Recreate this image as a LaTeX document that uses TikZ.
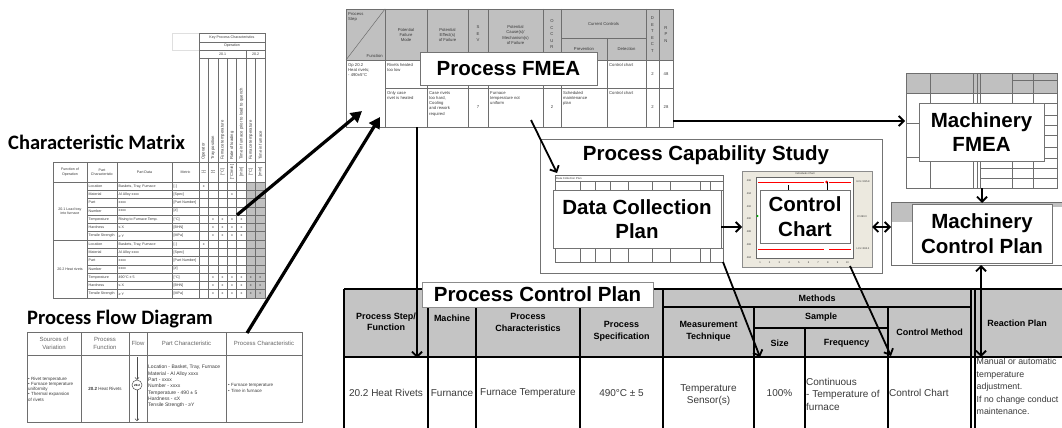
\documentclass[tikz,border=0pt]{standalone}
\usepackage{fontspec}
\setmainfont{Liberation Sans}
\newfontfamily\calibri{Carlito}
\usetikzlibrary{arrows.meta}
\definecolor{hdr}{HTML}{C0C0C0}
\definecolor{pcphdr}{HTML}{C4C4C4}
\definecolor{beige}{HTML}{ECE9DF}
\definecolor{tblline}{HTML}{6E6E6E}
\definecolor{txt}{HTML}{3A3A3A}
\newcounter{nd}
\newcommand\tn[3][]{\stepcounter{nd}\node[tiny,#1] (t\arabic{nd}) at (#2) {#3};}
\newcommand\cmrow[4]{\tn[anchor=west]{88.5,#1}{#2}\tn[anchor=west]{118.5,#1}{#3}\tn[anchor=west]{173.5,#1}{#4}}
\newcommand\xm[2]{\tn{{199+(#1-0.5)*66/7},#2}{x}}
\begin{document}
\begin{tikzpicture}[x=1pt,y=-1pt,
  lbl/.style={draw=black!55, line width=0.9pt, fill=white, font=\bfseries\fontsize{20.5}{24.5}\selectfont, align=center, inner sep=0pt},
  tiny/.style={font=\fontsize{3.6}{4.3}\selectfont, text=txt, inner sep=0pt, align=center},
  vt/.style={font=\fontsize{4.2}{5}\selectfont, rotate=90},
  small/.style={font=\fontsize{4.2}{5.2}\selectfont},
  stack/.style={font=\fontsize{4.2}{6.5}\selectfont},
  pfd/.style={font=\fontsize{5}{6.3}\selectfont},
  pfdh/.style={font=\fontsize{6}{7.8}\selectfont, text=black!60},
  pcph/.style={font=\bfseries\fontsize{9}{11.5}\selectfont, align=center, inner sep=0pt},
  pcpd/.style={font=\fontsize{10}{12.5}\selectfont, text=txt, align=center, inner sep=0pt},
  grid/.style={draw=tblline, line width=0.5pt},
  big/.style={line width=3.2pt, -{Triangle[length=11pt,width=12pt]}},
  arr/.style={line width=1.8pt, -{Straight Barb[length=5pt,width=10pt]}},
  darr/.style={line width=1.8pt, {Straight Barb[length=5pt,width=10pt]}-{Straight Barb[length=5pt,width=10pt]}},
  pline/.style={draw=black, line width=1.3pt},
]
\useasboundingbox (0,0) rectangle (1062,428);
\clip (0,0) rectangle (1062,428);
\fill[white] (0,0) rectangle (1062,428);

%================ Characteristic Matrix ================
\node[font=\calibri\bfseries\fontsize{20.5}{24}\selectfont, anchor=west, inner sep=0pt] (cmTitle) at (8,142) {Characteristic Matrix};
\draw[gray!25] (172,33) rectangle (199,50);
\fill[hdr] ({199+5*66/7},182) rectangle (265,298);
\draw[grid] (199,33) rectangle (265,162);
\draw[grid] (199,42) -- (265,42) (199,50) -- (265,50) (199,58) -- (265,58);
\draw[grid] ({199+5*66/7},50) -- ({199+5*66/7},58);
\foreach \i in {1,...,6} { \draw[grid] ({199+\i*66/7},58) -- ({199+\i*66/7},298); }
\draw[grid] (53,162) rectangle (265,298);
\draw[grid] (53,182) -- (265,182);
\foreach \x in {87,117,172,199} { \draw[grid] (\x,162) -- (\x,298); }
\foreach \r in {1,...,13} { \draw[grid] (87,{182+\r*116/14}) -- (265,{182+\r*116/14}); }
\draw[grid, line width=0.9pt] (53,240) -- (265,240);
\tn{232,37.5}{Key Process Characteristics}
\tn{232,46}{Operation}
\tn{222.6,54}{20.1}
\tn{255.6,54}{20.2}
\foreach \lab [count=\i] in {Operator,Tray position,Furnace temperature,Rate of loading,Time in furnace prior to load to quench,Furnace temperature,Time in furnace} {
  \node[tiny, vt, anchor=west] (cmv\i) at ({199+(\i-0.5)*66/7},160) {\lab};
}
\foreach \lab [count=\i] in {[-],[-],[°C],[°C/min],[min],[°C],[min]} {
  \node[tiny, vt] (cmu\i) at ({199+(\i-0.5)*66/7},172) {\lab};
}
\tn{70,172}{Function of\\Operation}
\tn{102,172}{Part\\Characteristic}
\tn{144.5,172}{Part Data}
\tn{185.5,172}{Metric}
\tn{70,211}{20.1 Load tray\\into furnace}
\tn{70,269}{20.2 Heat rivets}
\cmrow{186.1}{Location}{Baskets, Tray, Furnace}{[-]}
\cmrow{194.4}{Material}{Al Alloy xxxx}{[Spec]}
\cmrow{202.7}{Part}{xxxx}{[Part Number]}
\cmrow{211.0}{Number}{xxxx}{[\#]}
\cmrow{219.3}{Temperature}{Rising to Furnace Temp.}{[°C]}
\cmrow{227.6}{Hardness}{≤ X}{[BHN]}
\cmrow{235.9}{Tensile Strength}{≥ Y}{[MPa]}
\cmrow{244.1}{Location}{Baskets, Tray, Furnace}{[-]}
\cmrow{252.4}{Material}{Al Alloy xxxx}{[Spec]}
\cmrow{260.7}{Part}{xxxx}{[Part Number]}
\cmrow{269.0}{Number}{xxxx}{[\#]}
\cmrow{277.3}{Temperature}{490°C ± 5}{[°C]}
\cmrow{285.6}{Hardness}{≤ X}{[BHN]}
\cmrow{293.9}{Tensile Strength}{≥ Y}{[MPa]}
\xm{1}{186.1}
\xm{4}{194.4}
\foreach \yy in {219.3,227.6,235.9} { \foreach \c in {2,3,4,5} { \xm{\c}{\yy} } }
\xm{1}{244.1}
\foreach \yy in {277.3,285.6,293.9} { \foreach \c in {2,3,4,5,6,7} { \xm{\c}{\yy} } }

%================ Process Flow Diagram ================
\node[font=\calibri\bfseries\fontsize{20.5}{24}\selectfont, anchor=west, inner sep=0pt] (pfdTitle) at (27,319) {Process Flow Diagram};
\draw[grid, line width=0.8pt] (27,332) rectangle (302,422);
\draw[grid, line width=0.8pt] (27,355) -- (302,355);
\foreach \x in {81,129,147,226} { \draw[grid, line width=0.8pt] (\x,332) -- (\x,422); }
\tn[pfdh]{54,343.5}{Sources of\\Variation}
\tn[pfdh]{105,343.5}{Process\\Function}
\tn[pfdh]{138,343.5}{Flow}
\tn[pfdh]{186.5,343.5}{Part Characteristic}
\tn[pfdh]{264,343.5}{Process Characteristic}
\tn[font=\fontsize{4.5}{5.2}\selectfont, anchor=west, align=left]{28,389}{• Rivet temperature\\• Furnace temperature\\uniformity\\• Thermal expansion\\of rivets}
\tn[font=\fontsize{4.5}{5.2}\selectfont]{105,389}{\textbf{20.2} Heat Rivets}
\node[draw=black!70, circle, line width=0.5pt, minimum size=10pt, inner sep=0pt, font=\bfseries\fontsize{3}{3.5}\selectfont, fill=white] (flowC) at (137,385) {20.2};
\coordinate (flowTop) at (137,357);
\coordinate (flowBot) at (137,421);
\draw[black!70, line width=0.5pt, -{Straight Barb[length=2pt,width=4pt]}] (flowTop) -- (flowC);
\draw[black!70, line width=0.5pt, -{Straight Barb[length=2pt,width=4pt]}] (flowC) -- (flowBot);
\tn[pfd, anchor=west, align=left]{148,386.5}{Location - Basket, Tray, Furnace\\Material - Al Alloy xxxx\\Part - xxxx\\Number - xxxx\\Temperature - 490 ± 5\\Hardness - ≤X\\Tensile Strength - ≥Y}
\tn[font=\fontsize{4.5}{5.5}\selectfont, anchor=west, align=left]{228,388}{• Furnace temperature\\• Time in furnace}

%================ Process FMEA ================
\fill[hdr] (346,9) rectangle (673,60);
\draw[grid] (346,9) rectangle (673,127);
\foreach \x in {385,427,468,488,543,561,646,659} { \draw[grid] (\x,9) -- (\x,127); }
\draw[grid] (607,38) -- (607,127);
\draw[grid] (561,38) -- (646,38);
\draw[grid] (346,60) -- (673,60);
\draw[grid] (385,88) -- (673,88);
\draw[grid] (346,60) -- (385,9);
\tn[small, anchor=north west, align=left]{348,12}{Process\\Step}
\tn[small, anchor=south east]{383,58}{Function}
\tn[small]{406,35}{Potential\\Failure\\Mode}
\tn[small]{447.5,35}{Potential\\Effect(s)\\of Failure}
\tn[stack]{478,34}{S\\E\\V}
\tn[small]{515.5,35}{Potential\\Cause(s)/\\Mechanism(s)\\of Failure}
\tn[stack]{552,34.5}{O\\C\\C\\U\\R}
\tn[small]{603.5,23.5}{Current Controls}
\tn[small]{584,49}{Prevention}
\tn[small]{626.5,49}{Detection}
\tn[stack]{652.5,34.5}{D\\E\\T\\E\\C\\T}
\tn[stack]{666,34.5}{R\\P\\N}
\tn[small, anchor=north west, align=left]{348,63}{Op 20.2\\Heat rivets;\\- 490±5°C}
\tn[small, anchor=north west, align=left]{387,63}{Rivets heated\\too low}
\tn[small, anchor=north west, align=left]{609,63}{Control chart}
\tn[small]{652.5,74}{2}
\tn[small]{666,74}{48}
\tn[small, anchor=north west, align=left]{387,91}{Only case\\rivet is heated}
\tn[small, anchor=north west, align=left]{429,91}{Case rivets\\too hard,\\Cooling\\and rework\\required}
\tn[small]{478,107}{7}
\tn[small, anchor=north west, align=left]{490,91}{Furnace\\temperature not\\uniform}
\tn[small]{552,107}{2}
\tn[small, anchor=north west, align=left]{563,91}{Scheduled\\maintenance\\plan}
\tn[small, anchor=north west, align=left]{609,91}{Control chart}
\tn[small]{652.5,107}{2}
\tn[small]{666,107}{28}
\node[lbl, minimum width=177pt, minimum height=33pt] (pfmeaLbl) at (508.5,68.5) {Process FMEA};

%================ Process Capability Study ================
\draw[black!55, line width=0.9pt] (540,139) rectangle (882,273);
\node[font=\bfseries\fontsize{20.5}{24}\selectfont, inner sep=0pt] (pcsTitle) at (706,155) {Process Capability Study};
% data collection plan sheet
\draw[grid, fill=white] (555,175) rectangle (723,262);
\draw[grid] (555,181) -- (723,181) (555,190) -- (723,190) (555,248) -- (723,248);
\foreach \x in {580,595,610,628,652,670,700,710} { \draw[grid] (\x,181) -- (\x,190) (\x,248) -- (\x,262); }
\tn[font=\fontsize{2.8}{3}\selectfont, anchor=west]{556,178}{Data Collection Plan}
\node[lbl, minimum width=168pt, minimum height=58pt] (dcpLbl) at (637,219) {Data Collection\\Plan};
% control chart sheet
\draw[black!45, fill=beige] (742,171) rectangle (872,267);
\draw[black!60, fill=white] (756,177) rectangle (853,258);
\draw[red, line width=1pt] (758,182) -- (824,182) (829,182) -- (851,182);
\draw[red, line width=1pt] (758,249) -- (824,249) (829,249) -- (851,249);
\fill[red] (826.5,182) circle (1.5);
\draw[black, line width=0.5pt] (788,185) -- (788,190) (827,182) -- (827,190);
\fill[green!70!black] (757.5,216) circle (1.2);
\foreach \lab [count=\i] in {496,494,492,490,488,486,484} {
  \node[font=\fontsize{2.6}{3}\selectfont, inner sep=0pt, text=txt] (ccy\i) at (749,{181+(\i-1)*12.7}) {\lab};
}
\foreach \i in {1,...,10} {
  \node[font=\fontsize{2.6}{3}\selectfont, inner sep=0pt, text=txt] (ccx\i) at ({760+(\i-1)*9.7},263) {\i};
}
\tn[font=\fontsize{2.6}{3}\selectfont]{863,182}{UCL=495.8}
\tn[font=\fontsize{2.6}{3}\selectfont]{862,217}{X=490.0}
\tn[font=\fontsize{2.6}{3}\selectfont]{863,249}{LCL=484.2}
\tn[font=\fontsize{2.6}{3}\selectfont]{805,174}{Individuals Chart}
\node[lbl, minimum width=90pt, minimum height=53pt] (ccLbl) at (805,216.5) {Control\\Chart};

%================ Machinery FMEA ================
\fill[hdr] (906,73) rectangle (1057,93);
\draw[grid] (906,73) rectangle (1057,188);
\foreach \x in {930,973,977,980,1012,1033} { \draw[grid] (\x,73) -- (\x,188); }
\draw[grid] (906,93) -- (1057,93) (1012,80) -- (1057,80);
\foreach \yy in {103,115,125,135,147,158,168,178} { \draw[grid] (980,\yy) -- (1057,\yy); }
\foreach \yy in {123,157} { \draw[grid] (906,\yy) -- (973,\yy); }
\node[lbl, minimum width=125pt, minimum height=58pt] (mfmeaLbl) at (981.5,132) {Machinery\\FMEA};

%================ Machinery Control Plan ================
\draw[grid, fill=white] (891,202) rectangle (1070,265);
\fill[hdr] (891,202) rectangle (1070,207);
\fill[hdr] (891,202) rectangle (912,222);
\draw[grid] (891,202) rectangle (1070,265);
\node[lbl, minimum width=140pt, minimum height=59pt] (mcpLbl) at (982,233.5) {Machinery\\Control Plan};

%================ Process Control Plan ================
\fill[pcphdr] (344,289) rectangle (1070,357);
\draw[pline] (344,289) -- (1070,289) (344,357) -- (1070,357);
\draw[pline] (663,307) -- (971,307) (754,328) -- (888,328);
\foreach \x in {344,428,476,580,663,971,975} { \draw[pline] (\x,289) -- (\x,430); }
\draw[pline] (754,307) -- (754,430);
\draw[pline] (805,328) -- (805,430);
\draw[pline] (888,307) -- (888,430);
\node[pcph] (h1) at (386,322) {Process Step/\\Function};
\node[pcph] (h2) at (452,318) {Machine};
\node[pcph] (h3) at (528,322.5) {Process\\Characteristics};
\node[pcph] (h4) at (621.5,331.5) {Process\\Specification};
\node[pcph] (h5) at (817,298) {Methods};
\node[pcph] (h6) at (708.5,331.5) {Measurement\\Technique};
\node[pcph] (h7) at (821,317.5) {Sample};
\node[pcph] (h8) at (779.5,343) {Size};
\node[pcph] (h9) at (846.5,343) {Frequency};
\node[pcph] (h10) at (929.5,332) {Control Method};
\node[pcph] (h11) at (1017,323) {Reaction Plan};
\node[pcpd] (d1) at (386,393) {20.2 Heat Rivets};
\node[pcpd] (d2) at (452,393) {Furnance};
\node[pcpd] (d3) at (528,393) {Furnace Temperature};
\node[pcpd] (d4) at (621.5,393) {490°C ± 5};
\node[pcpd] (d5) at (708.5,395) {Temperature\\Sensor(s)};
\node[pcpd] (d6) at (779.5,393) {100\%};
\node[pcpd, align=left, anchor=west] (d7) at (806,394) {Continuous\\- Temperature of\\furnace};
\node[pcpd, anchor=west] (d8) at (889,393) {Control Chart};
\node[pcpd, font=\fontsize{8.8}{12.5}\selectfont, align=left, anchor=north west] (d9) at (976.5,358) {Manual or automatic\\temperature\\adjustment.\\If no change conduct\\maintenance.};
\node[lbl, draw=black!45, minimum width=231pt, minimum height=25pt] (pcpLbl) at (537.5,294.5) {Process Control Plan};

%================ Connectors ================
\coordinate (cmA) at (237,215);
\coordinate (fmeaA) at (362,111);
\coordinate (pfdA) at (247,333);
\coordinate (fmeaB) at (380,117);
\coordinate (fmeaR) at (673,121);
\coordinate (mfmeaL) at (905,121);
\coordinate (fmeaD) at (417,127);
\coordinate (pcpA) at (417,358);
\coordinate (fmeaC) at (531,120);
\coordinate (dcpA) at (557,173);
\coordinate (dcpR) at (721,227);
\coordinate (ccL) at (742,227);
\coordinate (ccR) at (872,227);
\coordinate (mcpL) at (891,227);
\coordinate (mfmeaB) at (982,188);
\coordinate (mcpT) at (982,203);
\coordinate (mcpB) at (981,265);
\coordinate (pcpR) at (981,357);
\coordinate (dcpB) at (723,262);
\coordinate (pcpS) at (760,357);
\coordinate (ccB) at (850,266);
\coordinate (pcpC) at (891,356);
\draw[big] (cmA) -- (fmeaA);
\draw[big] (pfdA) -- (fmeaB);
\draw[arr] (fmeaR) -- (mfmeaL);
\draw[arr] (fmeaD) -- (pcpA);
\draw[arr] (fmeaC) -- (dcpA);
\draw[arr] (dcpR) -- (ccL);
\draw[darr] (ccR) -- (mcpL);
\draw[arr] (mfmeaB) -- (mcpT);
\draw[darr] (mcpB) -- (pcpR);
\draw[arr] (dcpB) -- (pcpS);
\draw[arr] (ccB) -- (pcpC);
\end{tikzpicture}
\end{document}
